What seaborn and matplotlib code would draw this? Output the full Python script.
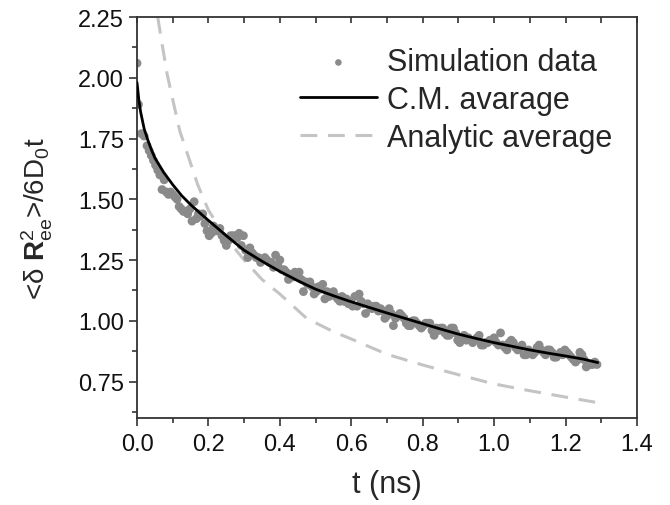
import numpy as np
import pandas as pd
import matplotlib
matplotlib.use("Agg")
import matplotlib.pyplot as plt
import seaborn as sns
from matplotlib.ticker import MultipleLocator

# simulation data (t in ns, value)
sim_t = [0.000, 0.004, 0.012, 0.020, 0.028, 0.034, 0.040, 0.046, 0.052, 0.058,
         0.064, 0.070, 0.076, 0.082, 0.088, 0.094, 0.100, 0.106, 0.112, 0.118,
         0.124, 0.130, 0.136, 0.142, 0.148, 0.154, 0.160, 0.166, 0.172, 0.178,
         0.184, 0.190, 0.196, 0.202, 0.208, 0.214, 0.220, 0.226, 0.232, 0.238,
         0.244, 0.250, 0.256, 0.262, 0.268, 0.274, 0.280, 0.286, 0.292, 0.298,
         0.304, 0.310, 0.316, 0.322, 0.328, 0.334, 0.340, 0.346, 0.352, 0.358,
         0.364, 0.370, 0.376, 0.382, 0.388, 0.394, 0.400, 0.406, 0.412, 0.418,
         0.424, 0.430, 0.436, 0.442, 0.448, 0.454, 0.460, 0.466, 0.472, 0.478,
         0.484, 0.490, 0.496, 0.502, 0.508, 0.514, 0.520, 0.526, 0.532, 0.538,
         0.544, 0.550, 0.556, 0.562, 0.568, 0.574, 0.580, 0.586, 0.592, 0.598,
         0.604, 0.610, 0.616, 0.622, 0.628, 0.634, 0.640, 0.646, 0.652, 0.658,
         0.664, 0.670, 0.676, 0.682, 0.688, 0.694, 0.700, 0.706, 0.712, 0.718,
         0.724, 0.730, 0.736, 0.742, 0.748, 0.754, 0.760, 0.766, 0.772, 0.778,
         0.784, 0.790, 0.796, 0.802, 0.808, 0.814, 0.820, 0.826, 0.832, 0.838,
         0.844, 0.850, 0.856, 0.862, 0.868, 0.874, 0.880, 0.886, 0.892, 0.898,
         0.904, 0.910, 0.916, 0.922, 0.928, 0.934, 0.940, 0.946, 0.952, 0.958,
         0.964, 0.970, 0.976, 0.982, 0.988, 0.994, 1.000, 1.006, 1.012, 1.018,
         1.024, 1.030, 1.036, 1.042, 1.048, 1.054, 1.060, 1.066, 1.072, 1.078,
         1.084, 1.090, 1.096, 1.102, 1.108, 1.114, 1.120, 1.126, 1.132, 1.138,
         1.144, 1.150, 1.156, 1.162, 1.168, 1.174, 1.180, 1.186, 1.192, 1.198,
         1.204, 1.210, 1.216, 1.222, 1.228, 1.234, 1.240, 1.246, 1.252, 1.258,
         1.264, 1.270, 1.276, 1.282, 1.288]
sim_v = [2.06, 1.89, 1.77, 1.76, 1.72, 1.70, 1.68, 1.66, 1.64, 1.62,
         1.60, 1.54, 1.58, 1.53, 1.52, 1.53, 1.52, 1.51, 1.50, 1.47,
         1.46, 1.45, 1.45, 1.44, 1.46, 1.41, 1.49, 1.42, 1.44, 1.43,
         1.44, 1.40, 1.37, 1.35, 1.36, 1.39, 1.37, 1.37, 1.38, 1.35,
         1.33, 1.31, 1.33, 1.35, 1.35, 1.35, 1.34, 1.36, 1.31, 1.35,
         1.29, 1.26, 1.30, 1.28, 1.27, 1.26, 1.26, 1.24, 1.25, 1.26,
         1.25, 1.24, 1.24, 1.22, 1.27, 1.23, 1.25, 1.21, 1.21, 1.20,
         1.17, 1.19, 1.18, 1.20, 1.18, 1.20, 1.17, 1.12, 1.16, 1.15,
         1.16, 1.14, 1.11, 1.12, 1.14, 1.13, 1.15, 1.09, 1.12, 1.10,
         1.11, 1.12, 1.10, 1.09, 1.08, 1.10, 1.08, 1.09, 1.07, 1.08,
         1.06, 1.10, 1.06, 1.11, 1.08, 1.07, 1.03, 1.07, 1.06, 1.05,
         1.06, 1.06, 1.04, 1.05, 1.04, 1.01, 1.02, 1.05, 1.03, 0.98,
         1.01, 1.02, 1.03, 1.02, 1.01, 0.99, 0.98, 0.98, 1.00, 1.00,
         0.99, 0.98, 0.97, 0.98, 0.99, 0.99, 0.99, 0.96, 0.94, 0.97,
         0.96, 0.97, 0.97, 0.95, 0.94, 0.94, 0.97, 0.97, 0.95, 0.92,
         0.91, 0.93, 0.94, 0.92, 0.93, 0.92, 0.91, 0.92, 0.93, 0.94,
         0.90, 0.90, 0.91, 0.91, 0.92, 0.92, 0.93, 0.91, 0.90, 0.95,
         0.90, 0.89, 0.88, 0.91, 0.92, 0.91, 0.89, 0.88, 0.89, 0.90,
         0.86, 0.86, 0.88, 0.87, 0.86, 0.87, 0.89, 0.90, 0.88, 0.87,
         0.86, 0.88, 0.88, 0.87, 0.85, 0.85, 0.86, 0.87, 0.86, 0.88,
         0.87, 0.86, 0.85, 0.84, 0.83, 0.84, 0.87, 0.86, 0.84, 0.81,
         0.82, 0.82, 0.82, 0.83, 0.82]

# C.M. average curve
cm_t = [0.0, 0.005, 0.01, 0.02, 0.03, 0.04, 0.05, 0.075, 0.1, 0.125, 0.15, 0.175,
        0.2, 0.25, 0.3, 0.35, 0.4, 0.45, 0.5, 0.55, 0.6, 0.65, 0.7, 0.75, 0.8,
        0.85, 0.9, 0.95, 1.0, 1.05, 1.1, 1.15, 1.2, 1.25, 1.29]
cm_v = [1.98, 1.91, 1.86, 1.79, 1.745, 1.705, 1.67, 1.61, 1.56, 1.515, 1.478, 1.445,
        1.413, 1.35, 1.29, 1.245, 1.203, 1.165, 1.13, 1.103, 1.078, 1.055, 1.032, 1.01, 0.988,
        0.966, 0.945, 0.927, 0.91, 0.895, 0.88, 0.867, 0.855, 0.842, 0.828]

# analytic average curve
an_t = [0.058, 0.07, 0.085, 0.1, 0.12, 0.145, 0.17, 0.2, 0.25, 0.3, 0.35, 0.4,
        0.475, 0.55, 0.6, 0.7, 0.8, 0.9, 1.0, 1.1, 1.2, 1.29]
an_v = [2.25, 2.14, 2.01, 1.91, 1.78, 1.67, 1.56, 1.455, 1.34, 1.25, 1.17, 1.11,
        1.01, 0.955, 0.925, 0.862, 0.818, 0.778, 0.74, 0.712, 0.686, 0.663]

x_ticks = [0.0, 0.2, 0.4, 0.6, 0.8, 1.0, 1.2, 1.4]
x_labels = ["0.0", "0.2", "0.4", "0.6", "0.8", "1.0", "1.2", "1.4"]
y_ticks = [0.75, 1.00, 1.25, 1.50, 1.75, 2.00, 2.25]
y_labels = ["0.75", "1.00", "1.25", "1.50", "1.75", "2.00", "2.25"]

sns.set_style("ticks")
plt.rcParams["font.family"] = ["Liberation Sans", "DejaVu Sans"]
plt.rcParams["mathtext.fontset"] = "custom"
plt.rcParams["mathtext.rm"] = "Liberation Sans"
plt.rcParams["mathtext.it"] = "Liberation Sans"
plt.rcParams["mathtext.bf"] = "Liberation Sans:bold"

fig = plt.figure(figsize=(6.7, 5.06), dpi=100)
ax = fig.add_axes([0.2045, 0.172, 0.7462, 0.7924])

sim = pd.DataFrame({"t": sim_t, "v": sim_v})
cm = pd.DataFrame({"t": cm_t, "v": cm_v})
an = pd.DataFrame({"t": an_t, "v": an_v})

sns.scatterplot(data=sim, x="t", y="v", ax=ax, color="#8a8a8a", s=40,
                edgecolor="none", label="Simulation data", zorder=2)
sns.lineplot(data=cm, x="t", y="v", ax=ax, color="black", linewidth=2.0,
             label="C.M. avarage", zorder=3, sort=False)
sns.lineplot(data=an, x="t", y="v", ax=ax, color="#c4c4c4", linewidth=2.2,
             linestyle=(0, (5.5, 3.5)), label="Analytic average", zorder=1, sort=False)

ax.set_xlim(0.0, 1.4)
ax.set_ylim(0.6, 2.25)
ax.set_xticks(x_ticks)
ax.set_xticklabels(x_labels)
ax.set_yticks(y_ticks)
ax.set_yticklabels(y_labels)
ax.xaxis.set_minor_locator(MultipleLocator(0.1))
ax.yaxis.set_minor_locator(MultipleLocator(0.125))

for s in ax.spines.values():
    s.set_linewidth(1.3)
    s.set_color("#333333")
ax.tick_params(which="major", direction="out", length=6, width=1.2,
               color="#333333", labelsize=17, labelcolor="#111111")
ax.tick_params(axis="x", which="major", pad=5)
ax.tick_params(which="minor", direction="out", length=3.5, width=1.2, color="#333333")

# inward ticks along the top edge
top = ax.secondary_xaxis("top")
top.set_xticks(x_ticks)
top.xaxis.set_minor_locator(MultipleLocator(0.1))
top.set_xticklabels([])
top.tick_params(which="both", direction="in", length=4, width=1.2, color="#333333")
top.spines["top"].set_visible(False)

ax.set_xlabel("t (ns)", fontsize=22, labelpad=10)
ax.set_ylabel(r"<$\delta$ $\mathbf{R}^{2}_{ee}$>/6D$_{0}$t", fontsize=20)
ax.yaxis.set_label_coords(-0.165, 0.5)

ax.legend(loc="upper right", bbox_to_anchor=(1.0, 0.985), frameon=False,
          fontsize=22, handlelength=2.5, handletextpad=0.35, labelspacing=0.25,
          borderaxespad=0.4, markerscale=0.75)

plt.savefig("out.png", dpi=100)
